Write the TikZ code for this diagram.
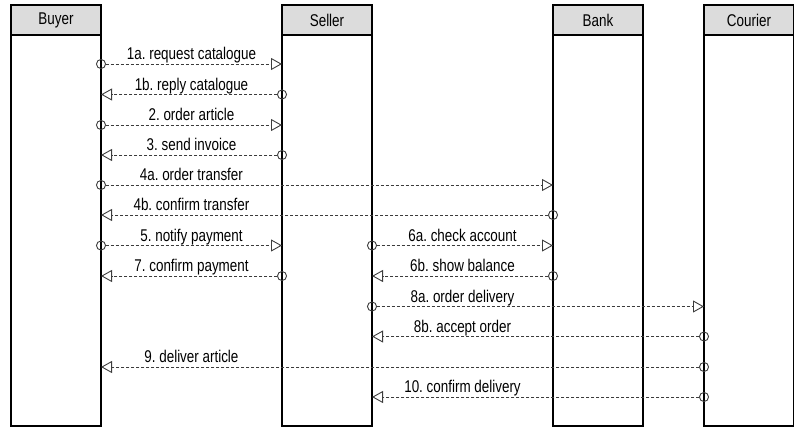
\documentclass[tikz,border=0pt]{standalone}
\usepackage{fontspec}
\setmainfont{Liberation Sans}[FakeStretch=0.79]
\usetikzlibrary{arrows.meta,positioning}
\definecolor{headgray}{RGB}{220,220,220}
\definecolor{msggray}{RGB}{60,60,60}

\begin{document}
\frenchspacing
\begin{tikzpicture}[x=1pt, y=-1pt,
        head/.style={draw, fill=headgray, line width=1.2pt, outer sep=0pt, minimum width=90pt, minimum height=30pt, font=\fontsize{17}{20}\selectfont},
        life/.style={draw, line width=1.2pt, outer sep=0pt, minimum width=90pt, minimum height=391pt},
        msg/.style={draw=msggray, line width=0.9pt, dash pattern=on 3pt off 2pt, shorten <=-5pt,
          {Circle[open, length=10pt, width=10pt]}-{Triangle[open, length=11pt, width=12pt]}},
        lbl/.style={anchor=base, inner sep=0pt, yshift=4.5pt, text=black, font=\fontsize{17}{20}\selectfont\frenchspacing}
      ]
        \useasboundingbox (0,0) rectangle (794,428);
        \node[head] (buyer) at (56,20) {Buyer};
        \node[life, below=0pt of buyer] (buyerL) {};
        \node[head] (seller) at (327,20) {Seller};
        \node[life, below=0pt of seller] (sellerL) {};
        \node[head] (bank) at (598,20) {Bank};
        \node[life, below=0pt of bank] (bankL) {};
        \node[head] (courier) at (749,20) {Courier};
        \node[life, below=0pt of courier] (courierL) {};

        \draw[msg] (buyerL.east |- 0,64) -- node[lbl] (m1a) {1a. request catalogue} (sellerL.west |- 0,64);
        \draw[msg] (sellerL.west |- 0,94.5) -- node[lbl] (m1b) {1b. reply catalogue} (buyerL.east |- 0,94.5);
        \draw[msg] (buyerL.east |- 0,125) -- node[lbl] (m2) {2. order article} (sellerL.west |- 0,125);
        \draw[msg] (sellerL.west |- 0,155) -- node[lbl] (m3) {3. send invoice} (buyerL.east |- 0,155);
        \draw[msg] (buyerL.east |- 0,185) -- node[lbl, pos=.2] (m4a) {4a. order transfer} (bankL.west |- 0,185);
        \draw[msg] (bankL.west |- 0,215) -- node[lbl, pos=.8] (m4b) {4b. confirm transfer} (buyerL.east |- 0,215);
        \draw[msg] (buyerL.east |- 0,245.5) -- node[lbl] (m5) {5. notify payment} (sellerL.west |- 0,245.5);
        \draw[msg] (sellerL.east |- 0,245.5) -- node[lbl] (m6a) {6a. check account} (bankL.west |- 0,245.5);
        \draw[msg] (sellerL.west |- 0,276) -- node[lbl] (m7) {7. confirm payment} (buyerL.east |- 0,276);
        \draw[msg] (bankL.west |- 0,276) -- node[lbl] (m6b) {6b. show balance} (sellerL.east |- 0,276);
        \draw[msg] (sellerL.east |- 0,306.5) -- node[lbl, pos=.2726] (m8a) {8a. order delivery} (courierL.west |- 0,306.5);
        \draw[msg] (courierL.west |- 0,336.5) -- node[lbl, pos=.7274] (m8b) {8b. accept order} (sellerL.east |- 0,336.5);
        \draw[msg] (courierL.west |- 0,367) -- node[lbl, pos=.85] (m9) {9. deliver article} (buyerL.east |- 0,367);
        \draw[msg] (courierL.west |- 0,397) -- node[lbl, pos=.7274] (m10) {10. confirm delivery} (sellerL.east |- 0,397);
      \end{tikzpicture}
\end{document}
